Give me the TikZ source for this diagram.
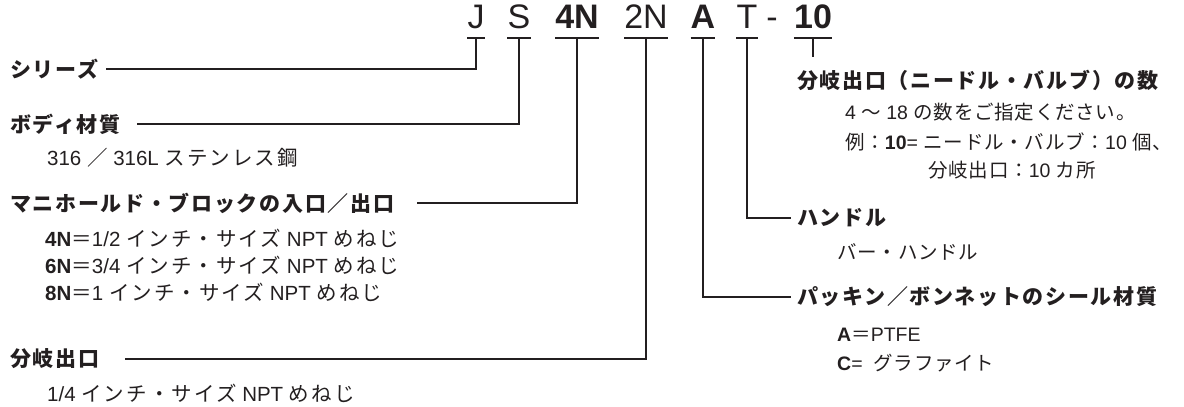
\documentclass[tikz,border=0pt]{standalone}
\usepackage{fontspec}
\newfontfamily\jpb[LetterSpace=8]{Noto Sans CJK JP}
\newfontfamily\jpr[LetterSpace=10]{Noto Sans CJK JP}
\newfontfamily\jpn[LetterSpace=4]{Noto Sans CJK JP}
\newfontfamily\lt{Liberation Sans}
\definecolor{ink}{HTML}{231F20}
\tikzset{
  code/.style={anchor=base, inner sep=0pt, font=\lt\fontsize{34}{34}\selectfont, text=ink},
  codeb/.style={code, font=\lt\bfseries\fontsize{34}{34}\selectfont},
  lab/.style={anchor=west, inner sep=0pt, font=\jpb\bfseries\fontsize{21}{21}\selectfont, text=ink},
  sub/.style={anchor=west, inner sep=0pt, font=\jpr\fontsize{20.5}{20.5}\selectfont, text=ink},
  subr/.style={anchor=west, inner sep=0pt, font=\jpn\fontsize{19.5}{19.5}\selectfont, text=ink},
  ln/.style={draw=ink, line width=2pt},
}
\newcommand{\la}[1]{{\lt #1}}
\newcommand{\lb}[1]{{\lt\bfseries #1}}
\begin{document}
\begin{tikzpicture}[x=1pt,y=-1pt]
\useasboundingbox (0,0) rectangle (1184,407);
% code letters
\node[code]  (cJ) at (476,28) {J};
\node[code]  (cS) at (519,28) {S};
\node[codeb] (c4N) at (577,28) {4N};
\node[code]  (c2N) at (646,28) {2N};
\node[codeb] (cA) at (703,28) {A};
\node[code]  (cT) at (747,28) {T};
\node[code]  (cD) at (772,28) {-};
\node[codeb] (c10) at (813,28) {10};
\coordinate (bary) at (0,38);
\foreach \n in {cJ,cS,c4N,c2N,cA,cT,c10}{
  \draw[ln] (\n.west |- bary) -- (\n.east |- bary);
  \coordinate (b\n) at (\n.center |- bary);
}
% left labels
\node[lab] (lSer) at (10,69) {シリーズ};
\node[lab] (lBody) at (10,124) {ボディ材質};
\node[sub] (sBody) at (47,158) {\la{316\ }／\la{\ 316L\ }ステンレス鋼};
\node[lab] (lMan) at (10,203) {マニホールド・ブロックの入口／出口};
\node[sub] (sMan1) at (45,238) {\lb{4N}＝\la{1/2\ }インチ・サイズ\la{\ NPT\ }めねじ};
\node[sub] (sMan2) at (45,265) {\lb{6N}＝\la{3/4\ }インチ・サイズ\la{\ NPT\ }めねじ};
\node[sub] (sMan3) at (45,292) {\lb{8N}＝\la{1\ }インチ・サイズ\la{\ NPT\ }めねじ};
\node[lab] (lBr) at (10,359) {分岐出口};
\node[sub] (sBr) at (47,393) {\la{1/4\ }インチ・サイズ\la{\ NPT\ }めねじ};
% right labels
\node[lab] (lNum) at (797,80) {分岐出口（ニードル・バルブ）の数};
\node[subr] (sNum1) at (845,112) {\la{4\ }～\la{\ 18\ }の数をご指定ください。};
\node[subr] (sNum2) at (845,142) {例：\lb{10}\la{=\ }ニードル・バルブ：\la{10\ }個、};
\node[subr] (sNum3) at (928,170) {分岐出口：\la{10\ }カ所};
\node[lab] (lHan) at (797,218) {ハンドル};
\node[subr] (sHan) at (837,252) {バー・ハンドル};
\node[lab] (lPk) at (797,297) {パッキン／ボンネットのシール材質};
\node[subr] (sPk1) at (837,335) {\lb{A}＝\la{PTFE}};
\node[subr] (sPk2) at (837,363) {\lb{C}\la{=\ \ }グラファイト};
% connector ends
\coordinate (eSer) at (106,69);
\coordinate (eBody) at (137,124);
\coordinate (eMan) at (417,203);
\coordinate (eBr) at (125,359);
\coordinate (eHan) at (791,218);
\coordinate (ePk) at (791,297);
\coordinate (eNum) at (813,57);
% connectors
\draw[ln] (bcJ) |- (eSer);
\draw[ln] (bcS) |- (eBody);
\draw[ln] (bc4N) |- (eMan);
\draw[ln] (bc2N) |- (eBr);
\draw[ln] (bcT) |- (eHan);
\draw[ln] (bcA) |- (ePk);
\draw[ln] (bc10) -- (bc10 |- eNum);
\end{tikzpicture}
\end{document}
